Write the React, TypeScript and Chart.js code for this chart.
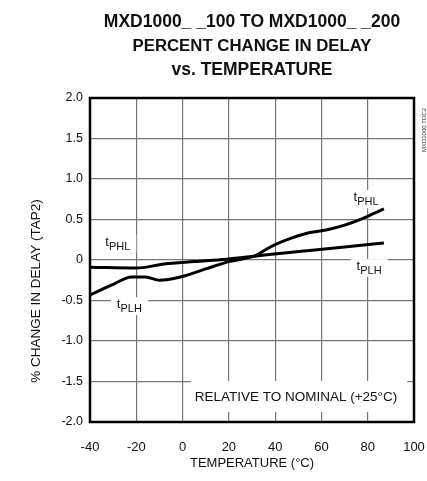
import React, { useEffect, useRef } from "react";
import { Chart, registerables } from "chart.js";

Chart.register(...registerables);

const titleLines = ["MXD1000_ _100 TO MXD1000_ _200", "PERCENT CHANGE IN DELAY", "vs. TEMPERATURE"];
const titleSizes = [17.5, 16.8, 17.5];
const xTitle = "TEMPERATURE (°C)";
const yTitle = "% CHANGE IN DELAY (TAP2)";
const sideNote = "MXD1000 TOC2";
const noteText = "RELATIVE TO NOMINAL (+25°C)";

const tempsA = [-40, -30, -22, -16, -10, -1, 10, 20, 32, 36, 40, 47, 55, 62, 70, 80, 87];
const valsA = [-0.43, -0.3, -0.21, -0.21, -0.25, -0.21, -0.11, -0.02, 0.06, 0.13, 0.19, 0.27, 0.34, 0.37, 0.43, 0.54, 0.63];

const tempsB = [-40, -20, -8, 5, 19, 32, 45, 56, 70, 87];
const valsB = [-0.09, -0.1, -0.05, -0.02, 0.01, 0.05, 0.09, 0.12, 0.16, 0.21];

const xTicks = [-40, -20, 0, 20, 40, 60, 80, 100];
const yTicks = [-2, -1.5, -1, -0.5, 0, 0.5, 1, 1.5, 2];

// curve labels: [sub, x (°C), y (%)]
const curveLabels: [string, number, number][] = [
  ["PHL", -28, 0.2],
  ["PLH", -23, -0.57],
  ["PHL", 79.3, 0.75],
  ["PLH", 80.6, -0.1],
];
const notePos = [49, -1.69];

const FONT = "'Liberation Sans', Arial, Helvetica, sans-serif";

export default function App() {
  const ref = useRef<HTMLCanvasElement | null>(null);
  useEffect(() => {
    const canvas = ref.current!;
    const overlay = {
      id: "overlay",
      beforeDatasetsDraw(chart: any) {
        const ctx = chart.ctx;
        const xs = chart.scales.x;
        const ys = chart.scales.y;
        ctx.save();
        for (const [sub, tx, ty] of curveLabels) {
          const px = xs.getPixelForValue(tx);
          const py = ys.getPixelForValue(ty);
          ctx.font = `13px ${FONT}`;
          const tw = ctx.measureText("t").width;
          ctx.font = `11px ${FONT}`;
          const sw = ctx.measureText(sub).width;
          const w = tw + sw;
          ctx.fillStyle = "#fff";
          ctx.fillRect(px - w / 2 - 6, py - 9, w + 12, 18);
          ctx.fillStyle = "#111";
          ctx.textBaseline = "alphabetic";
          ctx.textAlign = "left";
          ctx.font = `13px ${FONT}`;
          ctx.fillText("t", px - w / 2, py + 2);
          ctx.font = `11px ${FONT}`;
          ctx.fillText(sub, px - w / 2 + tw, py + 6);
        }
        const nx = xs.getPixelForValue(notePos[0]);
        const ny = ys.getPixelForValue(notePos[1]);
        ctx.font = `13.5px ${FONT}`;
        const nw = ctx.measureText(noteText).width;
        ctx.fillStyle = "#fff";
        ctx.fillRect(nx - nw / 2 - 4, ny - 16, nw + 14, 31);
        ctx.fillStyle = "#111";
        ctx.textAlign = "center";
        ctx.textBaseline = "middle";
        ctx.fillText(noteText, nx, ny);
        ctx.restore();
      },
      afterDatasetsDraw(chart: any) {
        const ctx = chart.ctx;
        const a = chart.chartArea;
        ctx.save();
        ctx.strokeStyle = "#000";
        ctx.lineWidth = 2.5;
        ctx.strokeRect(a.left, a.top, a.right - a.left, a.bottom - a.top);
        const cx = (a.left + a.right) / 2;
        ctx.fillStyle = "#111";
        ctx.textAlign = "center";
        ctx.textBaseline = "middle";
        titleLines.forEach((t, i) => {
          ctx.font = `bold ${titleSizes[i]}px ${FONT}`;
          ctx.fillText(t, cx, 22 + i * 24);
        });
        ctx.font = `13px ${FONT}`;
        ctx.fillText(xTitle, cx, 463);
        ctx.save();
        ctx.translate(36, 291);
        ctx.rotate(-Math.PI / 2);
        ctx.font = `13.5px ${FONT}`;
        ctx.fillText(yTitle, 0, 0);
        ctx.restore();
        ctx.save();
        ctx.translate(424, 130);
        ctx.rotate(-Math.PI / 2);
        ctx.font = `6px ${FONT}`;
        ctx.fillStyle = "#333";
        ctx.fillText(sideNote, 0, 0);
        ctx.restore();
        ctx.restore();
      },
    };

    const chart = new Chart(canvas, {
      type: "line",
      data: {
        datasets: [
          {
            data: tempsA.map((t, i) => ({ x: t, y: valsA[i] })),
            borderColor: "#000",
            borderWidth: 3,
            pointRadius: 0,
            cubicInterpolationMode: "monotone",
            fill: false,
          },
          {
            data: tempsB.map((t, i) => ({ x: t, y: valsB[i] })),
            borderColor: "#000",
            borderWidth: 3,
            pointRadius: 0,
            cubicInterpolationMode: "monotone",
            fill: false,
          },
        ],
      },
      options: {
        responsive: false,
        animation: false,
        devicePixelRatio: 1,
        layout: { padding: { top: 98, right: 13, left: 0, bottom: 0 } },
        plugins: { legend: { display: false }, title: { display: false }, tooltip: { enabled: false } },
        scales: {
          x: {
            type: "linear",
            min: -40,
            max: 100,
            afterBuildTicks: (s: any) => {
              s.ticks = xTicks.map((v) => ({ value: v }));
            },
            afterFit: (s: any) => {
              s.height = 59;
              s.paddingLeft = 0;
              s.paddingRight = 0;
            },
            ticks: {
              color: "#111",
              font: { size: 13, family: FONT },
              padding: 18,
              maxRotation: 0,
              autoSkip: false,
              callback: (v: any) => String(v),
            },
            grid: { color: "#777", lineWidth: 1.2, drawTicks: false, tickLength: 0 },
            border: { display: false },
          },
          y: {
            type: "linear",
            min: -2,
            max: 2,
            afterBuildTicks: (s: any) => {
              s.ticks = yTicks.map((v) => ({ value: v }));
            },
            afterFit: (s: any) => {
              s.width = 90;
              s.paddingTop = 0;
              s.paddingBottom = 0;
            },
            ticks: {
              color: "#111",
              font: { size: 12.5, family: FONT },
              padding: 7,
              autoSkip: false,
              callback: (v: any) => (v === 0 ? "0" : Number(v).toFixed(1)),
            },
            grid: { color: "#777", lineWidth: 1.2, drawTicks: false, tickLength: 0 },
            border: { display: false },
          },
        },
      },
      plugins: [overlay],
    } as any);
    return () => chart.destroy();
  }, []);

  return (
    <div style={{ position: "fixed", left: 0, top: 0, width: 427, height: 481, background: "#fff" }}>
      <canvas ref={ref} width={427} height={481} style={{ width: 427, height: 481, display: "block" }} />
    </div>
  );
}
